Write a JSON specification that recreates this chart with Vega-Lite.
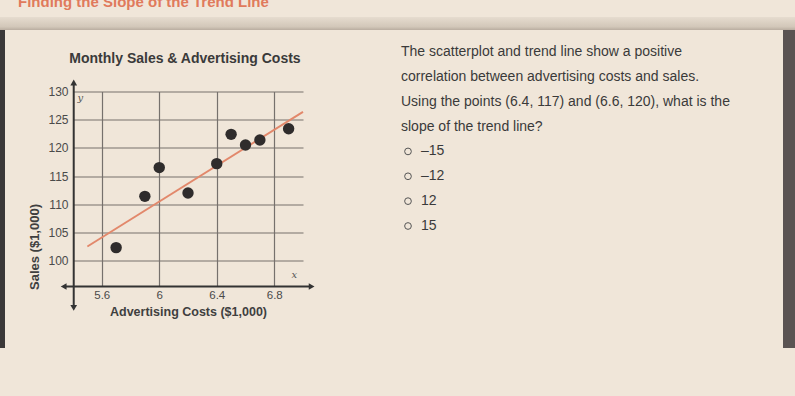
{
  "$schema": "https://vega.github.io/schema/vega-lite/v6.json",
  "background": "#f0e6d9",
  "padding": {"left": 0, "right": 0, "top": -5, "bottom": 48},
  "config": {
    "view": {"stroke": null},
    "font": "Liberation Sans",
    "axis": {"labelOverlap": false, "labelFontSize": 11.5, "labelColor": "#4a4a4a", "labelFlush": false}
  },
  "spacing": 0,
  "vconcat": [
    {
      "width": 795,
      "height": 13,
      "data": {"values": [{"header": "Finding the Slope of the Trend Line"}]},
      "layer": [
        {
          "mark": {
            "type": "rect",
            "color": {
              "gradient": "linear", "x1": 0, "y1": 0, "x2": 0, "y2": 1,
              "stops": [
                {"offset": 0, "color": "#e6dccf"},
                {"offset": 0.75, "color": "#d2c7b9"},
                {"offset": 1, "color": "#b9ada0"}
              ]
            }
          },
          "encoding": {}
        },
        {
          "mark": {"type": "text", "align": "left", "baseline": "alphabetic", "dx": 18, "dy": -16.5, "fontSize": 15, "fontWeight": "bold", "color": "#e07a5c"},
          "encoding": {
            "text": {"field": "header"},
            "x": {"datum": 0, "type": "quantitative", "scale": {"domain": [0, 1], "nice": false, "zero": false}, "axis": null}
          }
        }
      ]
    },
    {
      "bounds": "flush",
      "center": true,
      "spacing": 68,
      "hconcat": [
        {
          "width": 5,
          "height": 318,
          "data": {"values": [{}]},
          "mark": {"type": "rect", "color": "#3b3838"},
          "encoding": {}
        },
        {
          "width": 230,
          "height": 195,
          "title": {"text": "Monthly Sales & Advertising Costs", "fontSize": 14, "fontWeight": "bold", "color": "#3a3a3a", "anchor": "middle", "offset": 14, "dx": -3},
          "layer": [
            {
              "data": {"values": [{"cost": 5.5, "sales": 102.5}, {"cost": 7.0, "sales": 126.4}]},
              "mark": {"type": "line", "color": "#e2886b", "strokeWidth": 2},
              "encoding": {
                "x": {
                  "field": "cost", "type": "quantitative",
                  "scale": {"domain": [5.4, 7.0], "nice": false, "zero": false},
                  "axis": {
                    "values": [5.6, 5.8, 6, 6.2, 6.4, 6.6, 6.8, 7],
                    "labelExpr": "indexof([56, 60, 64, 68], round(datum.value * 10)) >= 0 ? format(datum.value, '~g') : ''",
                    "grid": true, "gridColor": "#76716d", "gridOpacity": 1, "gridWidth": 1.2,
                    "domain": false, "ticks": false, "labelFlush": false, "labelOverlap": false,
                    "labelFontSize": 11.5, "labelColor": "#4a4a4a", "labelPadding": 3,
                    "title": "Advertising Costs ($1,000)", "titleFontSize": 12.5, "titleFontWeight": "bold", "titleColor": "#3f3f3f", "titlePadding": 4
                  }
                },
                "y": {
                  "field": "sales", "type": "quantitative",
                  "scale": {"domain": [95.4, 130], "nice": false, "zero": false},
                  "axis": {
                    "values": [100, 105, 110, 115, 120, 125, 130],
                    "tickCount": 7,
                    "grid": true, "gridColor": "#76716d", "gridOpacity": 1, "gridWidth": 1.2,
                    "domain": false, "ticks": false, "labelFlush": false, "labelOverlap": false, "labelBound": false,
                    "labelFontSize": 12, "labelColor": "#4a4a4a", "labelPadding": 5,
                    "title": "Sales ($1,000)", "titleFontSize": 13, "titleFontWeight": "bold", "titleColor": "#3f3f3f", "titlePadding": 6, "titleY": 155
                  }
                }
              }
            },
            {
              "data": {"values": [
                {"cost": 5.7, "sales": 102.3},
                {"cost": 5.9, "sales": 111.4},
                {"cost": 6.0, "sales": 116.5},
                {"cost": 6.2, "sales": 112.0},
                {"cost": 6.4, "sales": 117.2},
                {"cost": 6.5, "sales": 122.4},
                {"cost": 6.6, "sales": 120.5},
                {"cost": 6.7, "sales": 121.4},
                {"cost": 6.9, "sales": 123.4}
              ]},
              "mark": {"type": "circle", "size": 130, "color": "#2f2c2c", "opacity": 1},
              "encoding": {
                "x": {"field": "cost", "type": "quantitative"},
                "y": {"field": "sales", "type": "quantitative"}
              }
            },
            {
              "data": {"values": [{}]},
              "mark": {"type": "rule", "color": "#333333", "strokeWidth": 2},
              "encoding": {
                "x": {"datum": 5.335, "type": "quantitative"},
                "x2": {"datum": 7.06},
                "y": {"datum": 95.4, "type": "quantitative"}
              }
            },
            {
              "data": {"values": [{}]},
              "mark": {"type": "rule", "color": "#333333", "strokeWidth": 2},
              "encoding": {
                "x": {"datum": 5.405, "type": "quantitative"},
                "y": {"datum": 91.6, "type": "quantitative"},
                "y2": {"datum": 131.6}
              }
            },
            {
              "data": {"values": [{}]},
              "mark": {"type": "point", "shape": "triangle-right", "filled": true, "size": 45, "color": "#333333", "opacity": 1},
              "encoding": {"x": {"datum": 7.06, "type": "quantitative"}, "y": {"datum": 95.4, "type": "quantitative"}}
            },
            {
              "data": {"values": [{}]},
              "mark": {"type": "point", "shape": "triangle-left", "filled": true, "size": 45, "color": "#333333", "opacity": 1},
              "encoding": {"x": {"datum": 5.335, "type": "quantitative"}, "y": {"datum": 95.4, "type": "quantitative"}}
            },
            {
              "data": {"values": [{}]},
              "mark": {"type": "point", "shape": "triangle-up", "filled": true, "size": 45, "color": "#333333", "opacity": 1},
              "encoding": {"x": {"datum": 5.405, "type": "quantitative"}, "y": {"datum": 131.6, "type": "quantitative"}}
            },
            {
              "data": {"values": [{}]},
              "mark": {"type": "point", "shape": "triangle-down", "filled": true, "size": 45, "color": "#333333", "opacity": 1},
              "encoding": {"x": {"datum": 5.405, "type": "quantitative"}, "y": {"datum": 91.6, "type": "quantitative"}}
            },
            {
              "data": {"values": [{"axisname": "y"}]},
              "mark": {"type": "text", "font": "DejaVu Serif", "fontStyle": "italic", "fontSize": 10, "color": "#555555"},
              "encoding": {"text": {"field": "axisname"}, "x": {"datum": 5.451, "type": "quantitative"}, "y": {"datum": 128.9, "type": "quantitative"}}
            },
            {
              "data": {"values": [{"axisname": "x"}]},
              "mark": {"type": "text", "font": "DejaVu Serif", "fontStyle": "italic", "fontSize": 10, "color": "#555555"},
              "encoding": {"text": {"field": "axisname"}, "x": {"datum": 6.94, "type": "quantitative"}, "y": {"datum": 97.5, "type": "quantitative"}}
            }
          ]
        },
        {
          "width": 344,
          "height": 174,
          "data": {"values": [
            {"line": 1, "text": "The scatterplot and trend line show a positive", "kind": "prompt"},
            {"line": 2, "text": "correlation between advertising costs and sales.", "kind": "prompt"},
            {"line": 3, "text": "Using the points (6.4, 117) and (6.6, 120), what is the", "kind": "prompt"},
            {"line": 4, "text": "slope of the trend line?", "kind": "prompt"},
            {"line": 5, "text": "–15", "kind": "option"},
            {"line": 6, "text": "–12", "kind": "option"},
            {"line": 7, "text": "12", "kind": "option"},
            {"line": 8, "text": "15", "kind": "option"}
          ]},
          "encoding": {
            "x": {"datum": 0, "type": "quantitative", "scale": {"domain": [0, 1], "nice": false, "zero": false}, "axis": null},
            "y": {"field": "line", "type": "quantitative", "scale": {"domain": [1, 8], "reverse": true, "nice": false, "zero": false}, "axis": null}
          },
          "layer": [
            {
              "transform": [{"filter": "datum.kind === 'prompt'"}],
              "mark": {"type": "text", "align": "left", "baseline": "middle", "dx": 30, "dy": -50, "fontSize": 14, "color": "#3a3a3a"},
              "encoding": {"text": {"field": "text"}}
            },
            {
              "transform": [{"filter": "datum.kind === 'option'"}],
              "mark": {"type": "text", "align": "left", "baseline": "middle", "dx": 50, "dy": -50, "fontSize": 14, "color": "#3a3a3a"},
              "encoding": {"text": {"field": "text"}}
            },
            {
              "transform": [{"filter": "datum.kind === 'option'"}],
              "mark": {"type": "point", "shape": "circle", "filled": false, "size": 45, "stroke": "#555555", "strokeWidth": 1, "opacity": 1, "xOffset": 37, "yOffset": -50}
            }
          ]
        },
        {
          "width": 12,
          "height": 318,
          "data": {"values": [{}]},
          "mark": {"type": "rect", "color": "#5a5352"},
          "encoding": {}
        }
      ]
    }
  ]
}
